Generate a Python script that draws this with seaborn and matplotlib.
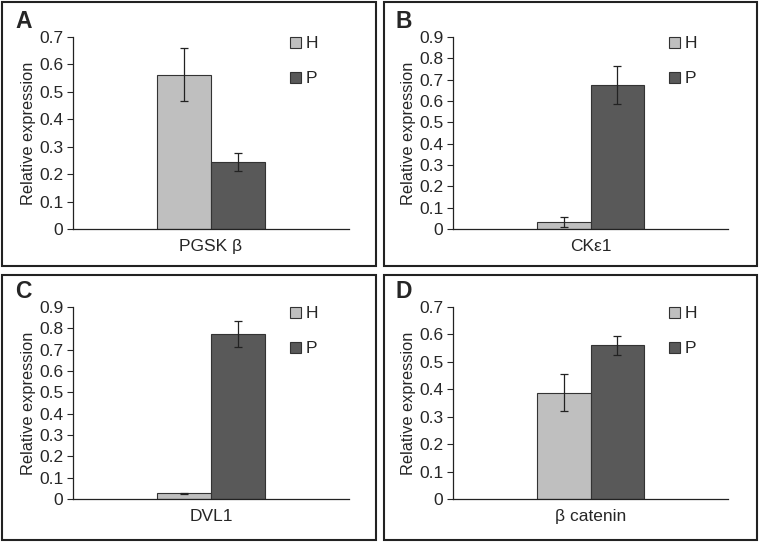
import pandas as pd
import matplotlib.pyplot as plt
import seaborn as sns
from matplotlib.patches import Rectangle

# Data
genes = ["PGSK β", "CKε1", "DVL1", "β catenin"]
letters = ["A", "B", "C", "D"]
groups = ["H", "P"]
h_values = [0.563, 0.033, 0.027, 0.388]
p_values = [0.245, 0.675, 0.773, 0.560]
h_errors = [0.098, 0.022, 0.003, 0.067]
p_errors = [0.033, 0.090, 0.060, 0.036]
y_max = [0.7, 0.9, 0.9, 0.7]

colors = {"H": "#BFBFBF", "P": "#595959"}

sns.set_style("white")
plt.rcParams['font.family'] = ['Liberation Sans', 'DejaVu Sans']

W, H = 761, 544
fig = plt.figure(figsize=(W / 100, H / 100), dpi=100)

# axes boxes in pixels: left, top, right, bottom
axes_px = [(73, 37, 349, 229), (453, 37, 728, 229),
           (73, 307, 349, 499), (453, 307, 728, 499)]
# panel frames in pixels
frames_px = [(2, 2, 376, 266), (384, 2, 757, 266),
             (2, 275, 376, 540), (384, 275, 757, 540)]

for i in range(4):
    fx0, fy0, fx1, fy1 = frames_px[i]
    fig.add_artist(Rectangle((fx0 / W, 1 - fy1 / H), (fx1 - fx0) / W, (fy1 - fy0) / H,
                             transform=fig.transFigure, fill=False,
                             edgecolor="#222222", linewidth=1.5))

    l, t, r, b = axes_px[i]
    ax = fig.add_axes([l / W, 1 - b / H, (r - l) / W, (b - t) / H])

    df = pd.DataFrame({
        "gene": [genes[i], genes[i]],
        "group": groups,
        "value": [h_values[i], p_values[i]],
    })
    sns.barplot(data=df, x="gene", y="value", hue="group", hue_order=groups,
                palette=colors, width=0.39, edgecolor="#333333", linewidth=0.8,
                errorbar=None, ax=ax)

    errs = [h_errors[i], p_errors[i]]
    for patch, err in zip(ax.patches[:2], errs):
        cx = patch.get_x() + patch.get_width() / 2
        ax.errorbar(cx, patch.get_height(), yerr=err, color="#222222",
                    capsize=3, elinewidth=0.9, capthick=0.9)

    ax.set_xlim(-0.5, 0.5)
    ax.set_ylim(0, y_max[i])
    n = int(round(y_max[i] * 10))
    ax.set_yticks([k / 10 for k in range(n + 1)])
    ax.set_yticklabels(["0"] + [f"{k / 10:.1f}" for k in range(1, n + 1)])
    ax.set_xticks([-0.5, 0.5], minor=True)
    ax.tick_params(axis="x", which="major", length=0, labelsize=12.5, pad=7)
    ax.tick_params(axis="x", which="minor", length=4, width=0.8, direction="out")
    ax.tick_params(axis="y", length=4, width=0.8, direction="out", labelsize=12.5, pad=3, left=True)
    ax.set_xlabel("")
    ax.set_ylabel("Relative expression", fontsize=11.8, labelpad=2)
    for side in ["top", "right"]:
        ax.spines[side].set_visible(False)
    for side in ["left", "bottom"]:
        ax.spines[side].set_color("#222222")
        ax.spines[side].set_linewidth(0.9)

    ax.legend(loc="upper left", bbox_to_anchor=(0.73, 1.085), frameon=False,
              fontsize=12.5, handlelength=0.6, handleheight=0.6,
              handletextpad=0.3, labelspacing=1.15)

    ax.text(-0.21, 1.02, letters[i], transform=ax.transAxes, fontsize=16.5,
            fontweight="bold", ha="left", va="bottom")

plt.savefig("out.png", dpi=100)
